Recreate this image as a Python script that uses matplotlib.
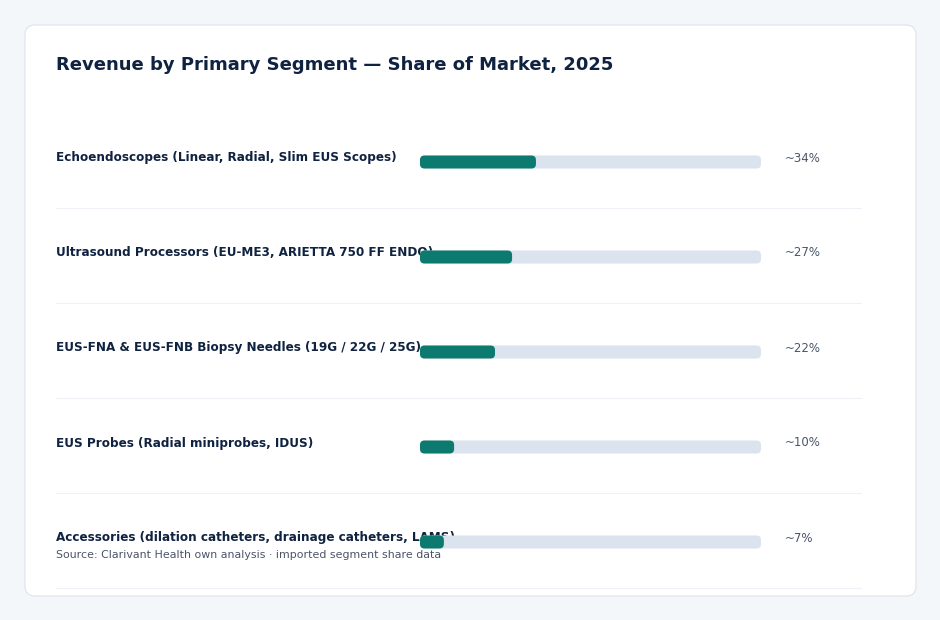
import matplotlib
matplotlib.use("Agg")
import matplotlib.pyplot as plt
from matplotlib.patches import FancyBboxPatch

# data
segments = [
    "Echoendoscopes (Linear, Radial, Slim EUS Scopes)",
    "Ultrasound Processors (EU-ME3, ARIETTA 750 FF ENDO)",
    "EUS-FNA & EUS-FNB Biopsy Needles (19G / 22G / 25G)",
    "EUS Probes (Radial miniprobes, IDUS)",
    "Accessories (dilation catheters, drainage catheters, LAMS)",
]
shares = [34, 27, 22, 10, 7]
share_labels = ["~34%", "~27%", "~22%", "~10%", "~7%"]

title = "Revenue by Primary Segment \u2014 Share of Market, 2025"
source = "Source: Clarivant Health own analysis \u00b7 imported segment share data"

BG = "#f4f7fa"
NAVY = "#0f2240"
GRAY = "#4a5568"
TEAL = "#0c7a6e"
TRACK = "#dae3ee"
LINE = "#eef1f5"

W, H = 940, 620
fig = plt.figure(figsize=(W / 100, H / 100), dpi=100, facecolor=BG)
ax = fig.add_axes([0, 0, 1, 1])
ax.set_xlim(0, W)
ax.set_ylim(H, 0)
ax.axis("off")

# card
ax.add_patch(FancyBboxPatch((25, 25), 891, 571,
                            boxstyle="round,pad=0,rounding_size=10",
                            facecolor="white", edgecolor="#dde3ea", lw=0.8, zorder=0))

ax.text(56, 65, title, fontsize=13, fontweight="bold", color=NAVY, va="center")

x0, track_w, bar_h = 420, 341, 13
row0, step = 158, 95
for i, (seg, val, lab) in enumerate(zip(segments, shares, share_labels)):
    y = row0 + i * step
    ax.text(56, y, seg, fontsize=8.65, fontweight="bold", color=NAVY, va="center", zorder=2)
    # bars sit above the labels, as in the original
    ax.add_patch(FancyBboxPatch((x0, y + 4 - bar_h / 2), track_w, bar_h,
                                boxstyle="round,pad=0,rounding_size=4.5",
                                facecolor=TRACK, edgecolor="none", zorder=4))
    ax.add_patch(FancyBboxPatch((x0, y + 4 - bar_h / 2), track_w * val / 100, bar_h,
                                boxstyle="round,pad=0,rounding_size=4.5",
                                facecolor=TEAL, edgecolor="none", zorder=5))
    ax.text(785, y, lab, fontsize=8.5, color=GRAY, va="center")
    ax.plot([56, 861], [y + 50, y + 50], color=LINE, lw=0.8, zorder=1)

ax.text(56, 555, source, fontsize=7.9, color=GRAY, va="center", zorder=6)

fig.savefig("out.png", dpi=100, facecolor=BG)
